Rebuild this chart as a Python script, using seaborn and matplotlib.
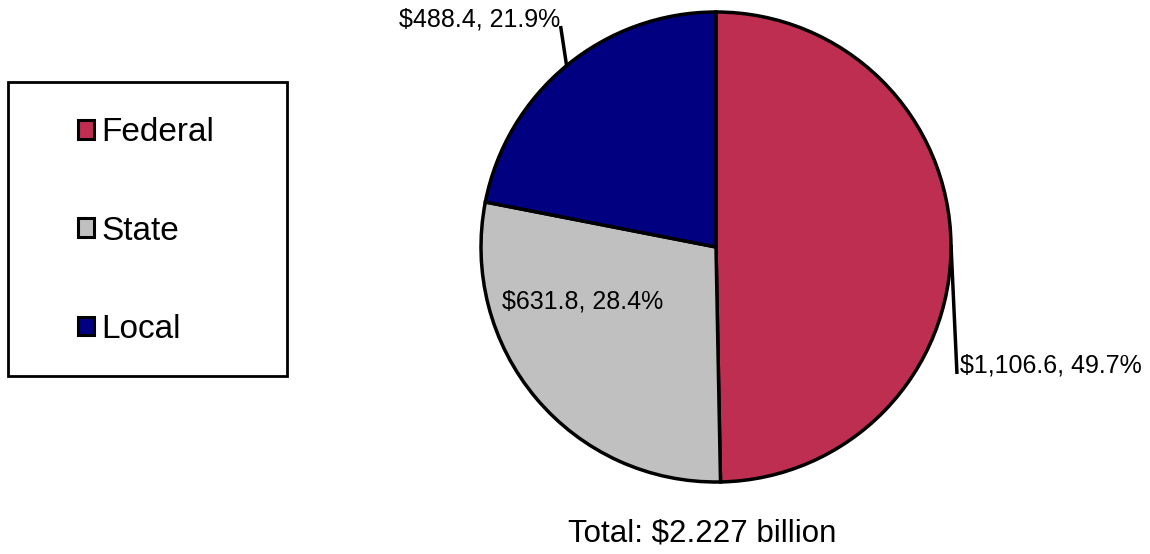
import numpy as np
import matplotlib
matplotlib.use("Agg")
import matplotlib.pyplot as plt
from matplotlib.patches import Patch, Rectangle
import seaborn as sns

sns.set_theme(style="white")
plt.rcParams["font.family"] = ["Liberation Sans", "DejaVu Sans"]

# Spending by level of government, $ billions
levels = ["Federal", "State", "Local"]
amounts = [1106.6, 631.8, 488.4]
shares = [49.7, 28.4, 21.9]
colors = ["#BE2E51", "#C0C0C0", "#000080"]
total_label = "Total: $2.227 billion"

W, H = 1150, 554
fig = plt.figure(figsize=(W / 100, H / 100), dpi=100)
ax = fig.add_axes([0, 0, 1, 1])
ax.set_xlim(0, W)
ax.set_ylim(0, H)
ax.set_aspect("equal")
ax.axis("off")

cx, cy, r = 716, 307, 235
wedges, _ = ax.pie(
    amounts, colors=colors, startangle=90, counterclock=False,
    center=(cx, cy), radius=r, frame=True,
    wedgeprops=dict(edgecolor="black", linewidth=2.5),
)
ax.set_xlim(0, W)
ax.set_ylim(0, H)
ax.axis("off")

labels = [f"${a:,.1f}, {s:.1f}%" for a, s in zip(amounts, shares)]

def edge_point(w, frac=1.0):
    ang = np.deg2rad((w.theta1 + w.theta2) / 2)
    return cx + frac * r * np.cos(ang), cy + frac * r * np.sin(ang)

# Federal: label outside on the right with a leader line
x0, y0 = edge_point(wedges[0])
ax.plot([x0, x0 + 6], [y0, 180], color="black", lw=2.5, solid_capstyle="butt")
ax.text(960, 189, labels[0], ha="left", va="center", fontsize=18, color="black")

# State: label inside the slice
ax.text(583, 252, labels[1], ha="center", va="center", fontsize=18, color="black")

# Local: label above-left with a leader line
x2, y2 = edge_point(wedges[2])
ax.plot([x2, x2 - 6], [y2, 528], color="black", lw=2.5, solid_capstyle="butt")
ax.text(560, 535, labels[2], ha="right", va="center", fontsize=18, color="black")

ax.text(702, 20, total_label, ha="center", va="center", fontsize=22.5, color="black")

# Legend frame and entries
ax.add_patch(Rectangle((8, H - 376), 279, 294, facecolor="white",
                       edgecolor="black", linewidth=2, zorder=3))
handles = [Patch(facecolor=c, edgecolor="black", linewidth=2.2) for c in colors]
leg = ax.legend(handles, levels, loc="center", bbox_to_anchor=(146 / W, (H - 231) / H),
                bbox_transform=fig.transFigure, frameon=False, fontsize=24,
                labelcolor="black",
                handlelength=0.48, handleheight=0.48, handletextpad=0.22,
                labelspacing=2.02, borderpad=0)
leg.set_zorder(4)

fig.savefig("out.png", dpi=100)
